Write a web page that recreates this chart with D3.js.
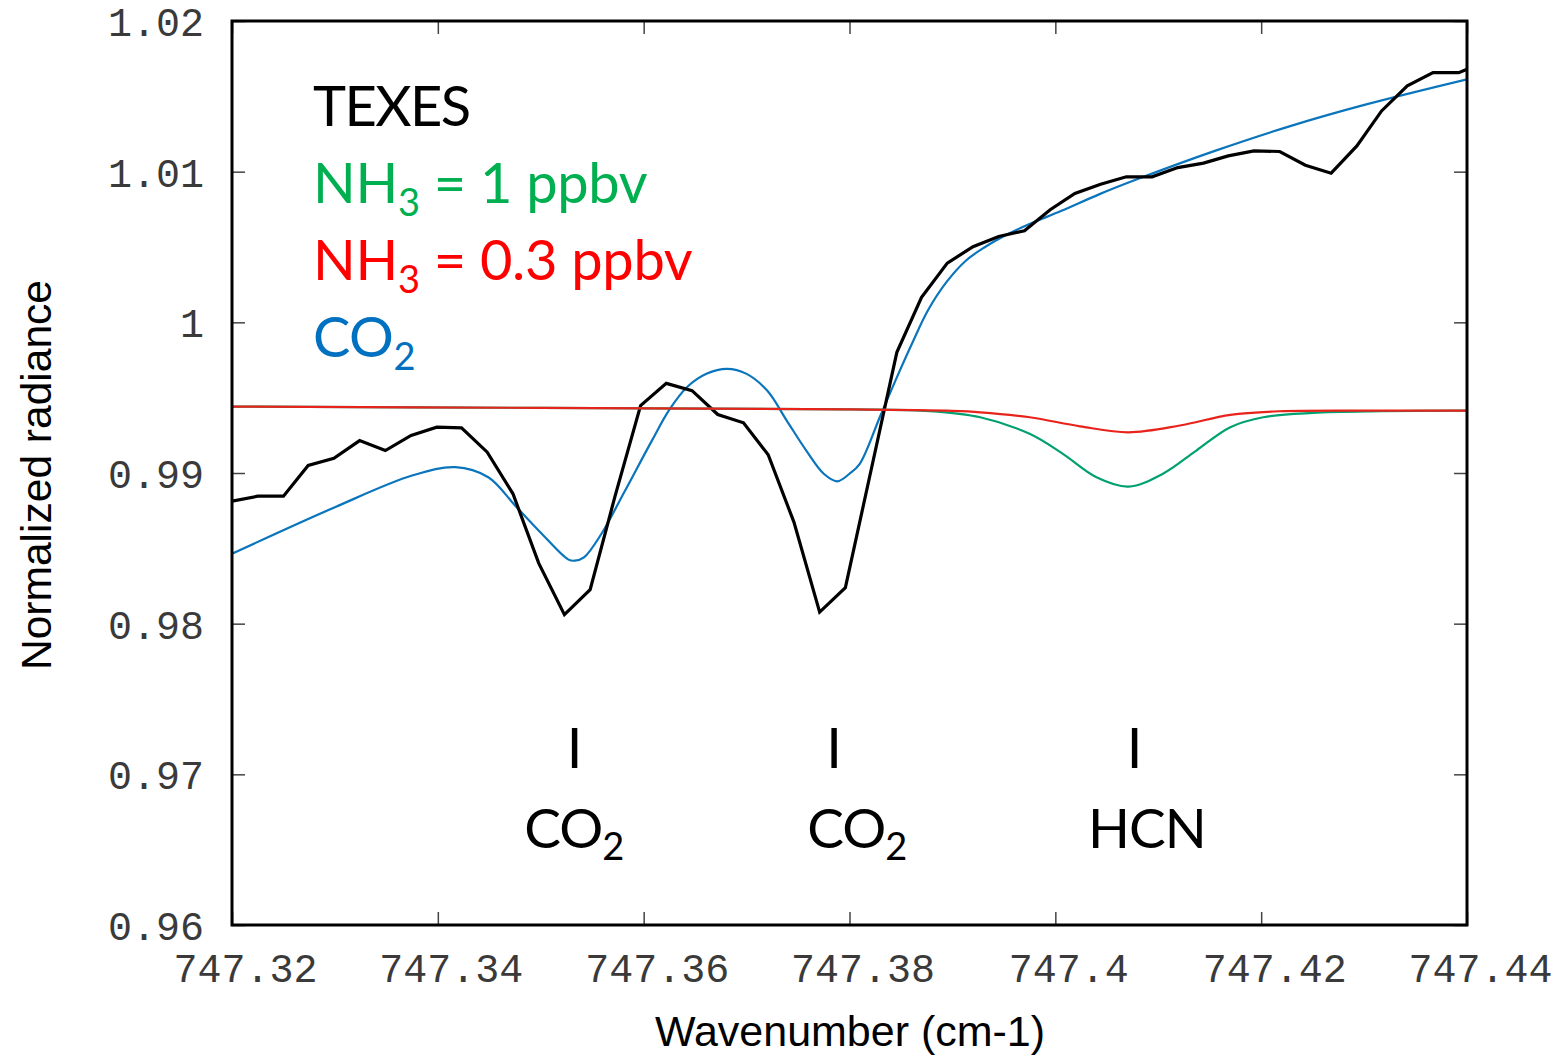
<!DOCTYPE html>
<html>
<head>
<meta charset="utf-8">
<script src="https://cdn.jsdelivr.net/npm/d3@7"></script>
<style>
  html, body { margin: 0; padding: 0; background: #fff; }
  svg { display: block; }
</style>
</head>
<body>
<svg id="chart" width="1559" height="1057"></svg>
<script>
// ---------- data ----------
const texesWavenumber = [
  747.3200, 747.3225, 747.3250, 747.3274, 747.3299, 747.3324, 747.3349, 747.3374, 747.3399, 747.3423,
  747.3448, 747.3473, 747.3498, 747.3523, 747.3548, 747.3572, 747.3597, 747.3622, 747.3647, 747.3672,
  747.3697, 747.3721, 747.3746, 747.3771, 747.3796, 747.3821, 747.3846, 747.3870, 747.3895, 747.3920,
  747.3945, 747.3970, 747.3995, 747.4019, 747.4044, 747.4069, 747.4094, 747.4119, 747.4144, 747.4168,
  747.4193, 747.4218, 747.4243, 747.4268, 747.4293, 747.4317, 747.4342, 747.4367, 747.4392, 747.4417
];
const texesRadiance = [
  0.98813, 0.98846, 0.98846, 0.99050, 0.99098, 0.99215, 0.99149, 0.99249, 0.99304, 0.99300,
  0.99138, 0.98862, 0.98402, 0.98060, 0.98226, 0.98841, 0.99447, 0.99595, 0.99547, 0.99388,
  0.99333, 0.99121, 0.98674, 0.98077, 0.98239, 0.99020, 0.99801, 1.00166, 1.00393, 1.00502,
  1.00570, 1.00608, 1.00747, 1.00855, 1.00917, 1.00966, 1.00966, 1.01027, 1.01057, 1.01105,
  1.01138, 1.01134, 1.01043, 1.00990, 1.01171, 1.01403, 1.01569, 1.01657, 1.01657, 1.01727
];

const co2Wavenumber = [
  747.3200, 747.3300, 747.3375, 747.3417, 747.3449, 747.3475, 747.3501, 747.3527, 747.3533, 747.3542,
  747.3559, 747.3582, 747.3608, 747.3625, 747.3642, 747.3661, 747.3681, 747.3700, 747.3720, 747.3739,
  747.3758, 747.3775, 747.3788, 747.3800, 747.3810, 747.3830, 747.3846, 747.3862, 747.3876, 747.3894,
  747.3913, 747.3931, 747.3954, 747.3976, 747.4006, 747.4043, 747.4080, 747.4155, 747.4229, 747.4303,
  747.4400
];
const co2Radiance = [
  0.98464, 0.98773, 0.98983, 0.99039, 0.98972, 0.98785, 0.98597, 0.98425, 0.98418, 0.98440,
  0.98597, 0.98884, 0.99215, 0.99420, 0.99569, 0.99658, 0.99691, 0.99658, 0.99547, 0.99348,
  0.99149, 0.98995, 0.98945, 0.98995, 0.99061, 0.99380, 0.99635, 0.99878, 1.00077, 1.00265,
  1.00409, 1.00497, 1.00586, 1.00656, 1.00740, 1.00851, 1.00951, 1.01138, 1.01304, 1.01448,
  1.01613
];

const nh3HighWavenumber = [
  747.3200, 747.3500, 747.3800, 747.3878, 747.3927, 747.3975, 747.4007, 747.4040, 747.4071, 747.4105,
  747.4137, 747.4170, 747.4202, 747.4250, 747.4316, 747.4400
];
const nh3HighRadiance = [
  0.99441, 0.99432, 0.99422, 0.99411, 0.99370, 0.99260, 0.99129, 0.98972, 0.98910, 0.98997,
  0.99149, 0.99304, 0.99370, 0.99399, 0.99410, 0.99414
];

const nh3LowWavenumber = [
  747.3200, 747.3500, 747.3800, 747.3900, 747.3927, 747.3975, 747.4024, 747.4071, 747.4121, 747.4170,
  747.4218, 747.4316, 747.4400
];
const nh3LowRadiance = [
  0.99441, 0.99432, 0.99422, 0.99412, 0.99403, 0.99370, 0.99310, 0.99270, 0.99315, 0.99386,
  0.99410, 0.99414, 0.99414
];

const xTicks = [747.32, 747.34, 747.36, 747.38, 747.40, 747.42, 747.44];
const xTickLabels = ["747.32", "747.34", "747.36", "747.38", "747.4", "747.42", "747.44"];
const yTicks = [0.96, 0.97, 0.98, 0.99, 1.00, 1.01, 1.02];
const yTickLabels = ["0.96", "0.97", "0.98", "0.99", "1", "1.01", "1.02"];

const lineMarkerWavenumber = [747.3533, 747.3785, 747.4077];
const lineLabelWavenumber = [747.3532, 747.3807, 747.4089];
const lineMarkerLabel = ["CO", "CO", "HCN"];
const lineMarkerSub = ["2", "2", ""];

// ---------- layout ----------
const svg = d3.select("#chart");
const margin = { left: 232, top: 21, right: 92, bottom: 132 };
const W = 1559, H = 1057;
const iw = W - margin.left - margin.right;
const ih = H - margin.top - margin.bottom;

const x = d3.scaleLinear().domain([747.32, 747.44]).range([0, iw]);
const y = d3.scaleLinear().domain([0.96, 1.02]).range([ih, 0]);

const g = svg.append("g").attr("transform", `translate(${margin.left},${margin.top})`);

svg.append("defs").append("clipPath").attr("id", "clip")
  .append("rect").attr("x", 0).attr("y", 0).attr("width", iw).attr("height", ih);

const tickColor = "#444";
const monoFont = "'Liberation Mono', 'DejaVu Sans Mono', monospace";

// axes (inside ticks, mirrored)
const axL = g.append("g").call(d3.axisLeft(y).tickValues(yTicks).tickSize(-13).tickPadding(27)
  .tickFormat((d, i) => yTickLabels[i]));
const axR = g.append("g").attr("transform", `translate(${iw},0)`)
  .call(d3.axisRight(y).tickValues(yTicks).tickSize(-13).tickFormat(""));
const axB = g.append("g").attr("transform", `translate(0,${ih})`)
  .call(d3.axisBottom(x).tickValues(xTicks).tickSize(-13).tickFormat((d, i) => xTickLabels[i]));
const axT = g.append("g")
  .call(d3.axisTop(x).tickValues(xTicks).tickSize(-13).tickFormat(""));

[axL, axR, axB, axT].forEach(a => {
  a.select(".domain").remove();
  a.selectAll(".tick line").attr("stroke", tickColor).attr("stroke-width", 1.5);
});
axL.selectAll(".tick text")
  .attr("font-family", monoFont).attr("font-size", 40).attr("fill", "#3a3a3a")
  .attr("x", -28).attr("dy", "0.36em");
axB.selectAll(".tick text")
  .attr("font-family", monoFont).attr("font-size", 40).attr("fill", "#3a3a3a")
  .attr("y", 57).attr("dy", 0).attr("dx", 13);

// series
const lineOf = (curve) => d3.line().x(d => x(d[0])).y(d => y(d[1])).curve(curve);
const zip = (a, b) => a.map((v, i) => [v, b[i]]);
const smooth = d3.curveCatmullRom.alpha(0.5);

const plot = g.append("g").attr("clip-path", "url(#clip)");
plot.append("path").datum(zip(co2Wavenumber, co2Radiance))
  .attr("fill", "none").attr("stroke", "#0a75bc").attr("stroke-width", 2.2)
  .attr("d", lineOf(smooth));
plot.append("path").datum(zip(texesWavenumber, texesRadiance))
  .attr("fill", "none").attr("stroke", "#000").attr("stroke-width", 3.2)
  .attr("stroke-linejoin", "miter")
  .attr("d", lineOf(d3.curveLinear));
plot.append("path").datum(zip(nh3HighWavenumber, nh3HighRadiance))
  .attr("fill", "none").attr("stroke", "#00a070").attr("stroke-width", 2.2)
  .attr("d", lineOf(smooth));
plot.append("path").datum(zip(nh3LowWavenumber, nh3LowRadiance))
  .attr("fill", "none").attr("stroke", "#e8231b").attr("stroke-width", 2.2)
  .attr("d", lineOf(smooth));

// frame
g.append("rect").attr("x", 0).attr("y", 0).attr("width", iw).attr("height", ih)
  .attr("fill", "none").attr("stroke", "#000").attr("stroke-width", 3);

// legend
const sansFont = "Lato, 'Open Sans', sans-serif";
const legend = [
  { main: "TEXES", sub: "", rest: "", color: "#000000", baseline: 126, spacing: -1.6 },
  { main: "NH", sub: "3", rest: " = 1 ppbv", color: "#00b050", baseline: 203, spacing: -0.3 },
  { main: "NH", sub: "3", rest: " = 0.3 ppbv", color: "#ff0000", baseline: 280, spacing: -0.3 },
  { main: "CO", sub: "2", rest: "", color: "#0070c0", baseline: 357, spacing: -0.5 }
];
legend.forEach(l => {
  const t = svg.append("text").attr("x", 313).attr("y", l.baseline)
    .attr("font-family", sansFont).attr("font-size", 56).attr("fill", l.color)
    .attr("letter-spacing", l.spacing);
  t.append("tspan").text(l.main);
  if (l.sub) {
    t.append("tspan").attr("font-size", 38).attr("dy", 13).text(l.sub);
    t.append("tspan").attr("dy", -13).text(l.rest);
  }
});

// line markers
lineMarkerWavenumber.forEach((w, i) => {
  const cx = margin.left + x(w);
  svg.append("text").attr("x", cx).attr("y", 768).attr("text-anchor", "middle")
    .attr("font-family", sansFont).attr("font-size", 56).attr("fill", "#000").text("I");
  const t = svg.append("text").attr("x", margin.left + x(lineLabelWavenumber[i])).attr("y", 848)
    .attr("text-anchor", "middle")
    .attr("font-family", sansFont).attr("font-size", 55).attr("fill", "#000")
    .attr("letter-spacing", -1);
  t.append("tspan").text(lineMarkerLabel[i]);
  if (lineMarkerSub[i]) {
    t.append("tspan").attr("font-size", 38).attr("dy", 12).text(lineMarkerSub[i]);
  }
});

// axis titles
const titleFont = "'Liberation Sans', Arial, sans-serif";
svg.append("text")
  .attr("transform", "translate(51,475) rotate(-90)")
  .attr("text-anchor", "middle")
  .attr("font-family", titleFont).attr("font-size", 42).attr("fill", "#000")
  .attr("textLength", 390).attr("lengthAdjust", "spacingAndGlyphs")
  .text("Normalized radiance");
svg.append("text")
  .attr("x", 850).attr("y", 1046)
  .attr("text-anchor", "middle")
  .attr("font-family", titleFont).attr("font-size", 42).attr("fill", "#000")
  .attr("textLength", 390).attr("lengthAdjust", "spacingAndGlyphs")
  .text("Wavenumber (cm-1)");
</script>
</body>
</html>
